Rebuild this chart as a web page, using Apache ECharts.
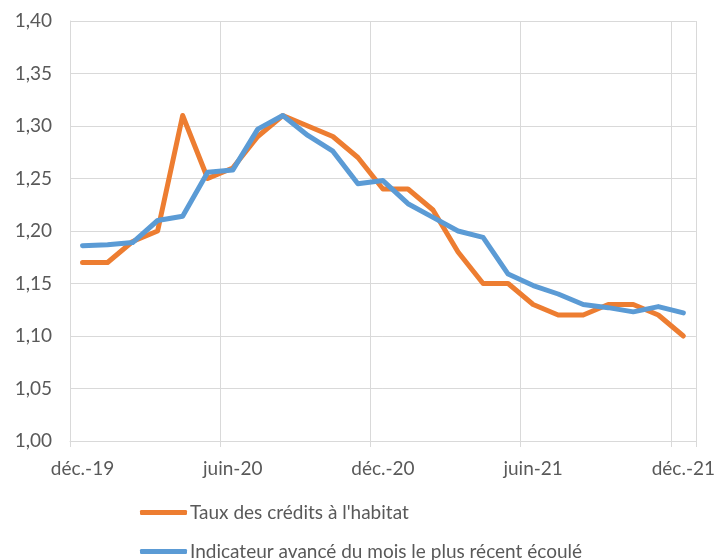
<!DOCTYPE html>
<html>
<head>
<meta charset="utf-8">
<script src="https://cdn.jsdelivr.net/npm/echarts@6/dist/echarts.min.js"></script>
<style>
  html, body { margin: 0; padding: 0; background: #fff; }
  #chart { width: 718px; height: 560px; }
</style>
</head>
<body>
<div id="chart"></div>
<script>
  // mois de déc.-19 à déc.-21
  var mois = ['déc.-19', 'janv.-20', 'févr.-20', 'mars-20', 'avr.-20', 'mai-20',
    'juin-20', 'juil.-20', 'août-20', 'sept.-20', 'oct.-20', 'nov.-20',
    'déc.-20', 'janv.-21', 'févr.-21', 'mars-21', 'avr.-21', 'mai-21',
    'juin-21', 'juil.-21', 'août-21', 'sept.-21', 'oct.-21', 'nov.-21', 'déc.-21'];

  var tauxHabitat = [1.17, 1.17, 1.19, 1.20, 1.31, 1.25, 1.26, 1.29, 1.31, 1.30,
    1.29, 1.27, 1.24, 1.24, 1.22, 1.18, 1.15, 1.15, 1.13, 1.12, 1.12, 1.13, 1.13, 1.12, 1.10];

  var indicateurAvance = [1.186, 1.187, 1.189, 1.21, 1.214, 1.256, 1.258, 1.297, 1.31, 1.291,
    1.276, 1.245, 1.248, 1.226, 1.213, 1.20, 1.194, 1.159, 1.148, 1.14, 1.13, 1.127, 1.123, 1.128, 1.122];

  var noms = ["Taux des crédits à l'habitat", 'Indicateur avancé du mois le plus récent écoulé'];

  var police = 'Lato';
  var gris = '#595959';
  var grille = '#d9d9d9';

  // une légende par ligne, sinon elle se replie en colonnes
  function legende(nom, haut) {
    return {
      orient: 'vertical',
      left: 140,
      top: haut,
      padding: 0,
      itemWidth: 47,
      itemHeight: 5,
      icon: 'roundRect',
      textStyle: { fontFamily: police, fontSize: 19, color: gris, padding: [0, 0, 0, -2] },
      data: [nom]
    };
  }

  var option = {
    backgroundColor: '#fff',
    animation: false,
    grid: { left: 70, right: 21, top: 21, bottom: 119 },
    legend: [legende(noms[0], 503), legende(noms[1], 542)],
    xAxis: {
      type: 'category',
      data: mois,
      boundaryGap: true,
      axisLine: { lineStyle: { color: grille, width: 1 } },
      axisTick: { show: true, length: 6, interval: 5, lineStyle: { color: grille } },
      axisLabel: {
        interval: 5,
        margin: 18,
        fontFamily: police,
        fontSize: 19,
        color: gris
      },
      splitLine: { show: true, interval: 5, lineStyle: { color: grille, width: 1 } }
    },
    yAxis: {
      type: 'value',
      min: 1.0,
      max: 1.4,
      interval: 0.05,
      axisLine: { show: true, lineStyle: { color: grille } },
      axisTick: { show: false },
      axisLabel: {
        margin: 18,
        fontFamily: police,
        fontSize: 19,
        color: gris,
        formatter: function (v) { return v.toFixed(2).replace('.', ','); }
      },
      splitLine: { lineStyle: { color: grille, width: 1 } }
    },
    series: [
      {
        name: noms[0],
        type: 'line',
        data: tauxHabitat,
        symbol: 'none',
        color: '#ed7d31',
        lineStyle: { width: 5, color: '#ed7d31', cap: 'round', join: 'round' }
      },
      {
        name: noms[1],
        type: 'line',
        data: indicateurAvance,
        symbol: 'none',
        color: '#5b9bd5',
        lineStyle: { width: 5, color: '#5b9bd5', cap: 'round', join: 'round' }
      }
    ]
  };

  var myChart = echarts.init(document.getElementById('chart'));
  myChart.setOption(option);
</script>
</body>
</html>
